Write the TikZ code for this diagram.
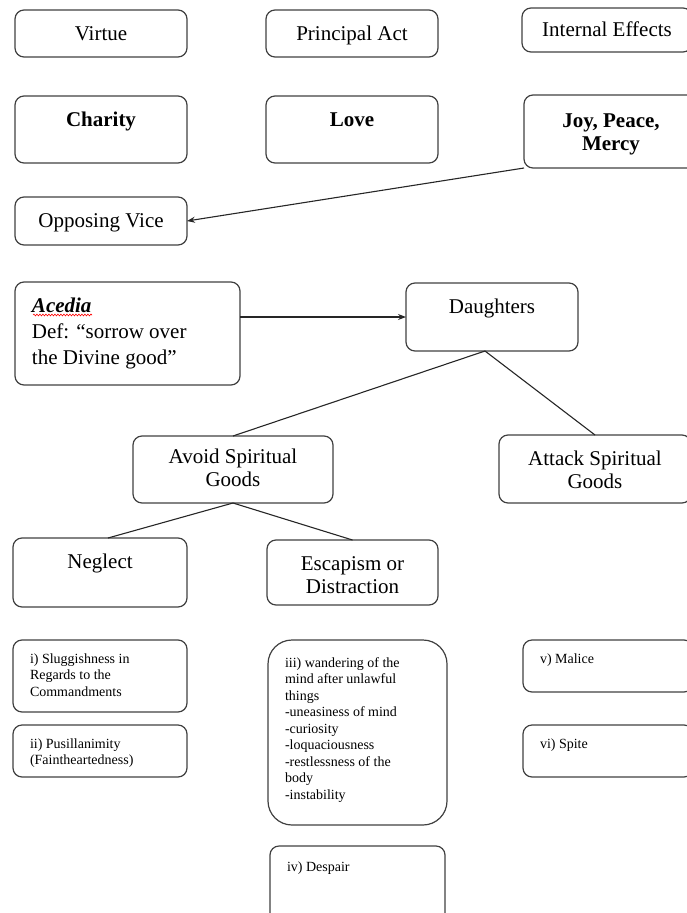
\documentclass[tikz,border=0pt]{standalone}
\usepackage{fontspec}
\setmainfont{Liberation Serif}
\usetikzlibrary{positioning,arrows.meta,decorations.pathmorphing}

% text set at the top of a box: [first baseline]{width}{height}{text}
\newcommand{\cardtext}[4][30pt]{\parbox[c][#3][t]{#2}{\centering\rule{0pt}{#1}#4\par}}
\newcommand{\notetext}[4][24pt]{\parbox[c][#3][t]{#2}{\raggedright\leftskip=17pt\rule{0pt}{#1}#4\par}}

\tikzset{
diagram/.style={
    x=1pt,
    y=-1pt,
    >={Stealth[length=8pt,width=6pt]}
},
card/.style={
    draw=black!75,
    line width=1.2pt,
    rounded corners=9pt,
    inner sep=0pt,
    outer sep=0pt,
    anchor=north west,
    font=\fontsize{21}{23.5}\selectfont
},
note/.style={
    card,
    font=\fontsize{14}{16.5}\selectfont
},
link/.style={
    draw=black!85,
    line width=1.1pt
},
leads/.style={
    link,
    ->
},
spell/.style={
    red,
    line width=0.6pt,
    decorate,
    decoration={snake, amplitude=0.9pt, segment length=3pt}
}}

\begin{document}
\begin{tikzpicture}[diagram]
\useasboundingbox (0,0) rectangle (687,913);
\clip (0,0) rectangle (687,913);

% virtue table
\node[card]  (virtue)    at (15,10)              {\cardtext{172pt}{47pt}{Virtue}};
\node[card]  (act)       [right=79pt of virtue]  {\cardtext{172pt}{47pt}{Principal Act}};
\node[card]  (effects)   at (522,8)              {\cardtext[28pt]{170pt}{44pt}{Internal Effects}};
\node[card]  (charity)   [below=39pt of virtue]  {\cardtext{172pt}{67pt}{\textbf{Charity}}};
\node[card]  (love)      [below=39pt of act]     {\cardtext{172pt}{67pt}{\textbf{Love}}};
\node[card]  (joy)       at (524,95)             {\cardtext[32pt]{174pt}{73pt}{\bfseries Joy, Peace,\\Mercy}};
\node[card]  (vice)      [below=34pt of charity] {\cardtext{172pt}{48pt}{Opposing Vice}};

% the vice and its daughters
\node[card, font=\fontsize{21}{26}\selectfont] (acedia) [below=37pt of vice.south west, anchor=north west]
    {\notetext[30pt]{225pt}{103pt}{\textbf{\textit{Acedia}}\\Def: “sorrow over\\the Divine good”}};
\node[card]  (daughters) at (406,283)            {\cardtext{172pt}{68pt}{Daughters}};
\node[card]  (avoid)     at (133,436)            {\cardtext[27pt]{200pt}{67pt}{Avoid Spiritual\\Goods}};
\node[card]  (attack)    at (499,435)            {\cardtext{192pt}{68pt}{Attack Spiritual\\Goods}};
\node[card]  (neglect)   at (13,538)             {\cardtext{174pt}{69pt}{Neglect}};
\node[card]  (escape)    [right=80pt of neglect] {\cardtext{171pt}{65pt}{Escapism or\\Distraction}};

% the six daughters
\node[note]  (sluggish)  at (13,640)              {\notetext[23pt]{174pt}{72pt}{i) Sluggishness in\\Regards to the\\Commandments}};
\node[note]  (pusill)    [below=13pt of sluggish] {\notetext[23pt]{174pt}{52pt}{ii) Pusillanimity\\(Faintheartedness)}};
\node[note, rounded corners=24pt] (wander) at (268,640)
    {\notetext[27pt]{179pt}{185pt}{iii) wandering of the\\mind after unlawful\\things\\-uneasiness of mind\\-curiosity\\-loquaciousness\\-restlessness of the\\body\\-instability}};
\node[note]  (despair)   [below=21pt of wander]   {\notetext[25pt]{175pt}{80pt}{iv) Despair}};
\node[note]  (malice)    at (523,640)             {\notetext[23pt]{170pt}{52pt}{v) Malice}};
\node[note]  (spite)     [below=33pt of malice]   {\notetext[23pt]{170pt}{52pt}{vi) Spite}};

\draw[spell] ([xshift=18pt,yshift=-33pt]acedia.north west) -- ++(59,0);

\draw[leads] (joy.south west) -- (vice.east);
\draw[leads] (acedia.east |- daughters.west) -- (daughters.west);

\draw[link]  ([xshift=-7pt]daughters.south) -- (avoid.north);
\draw[link]  ([xshift=-7pt]daughters.south) -- (attack.north);
\draw[link]  (avoid.south) -- ([xshift=8pt]neglect.north);
\draw[link]  (avoid.south) -- (escape.north);
\end{tikzpicture}
\end{document}
